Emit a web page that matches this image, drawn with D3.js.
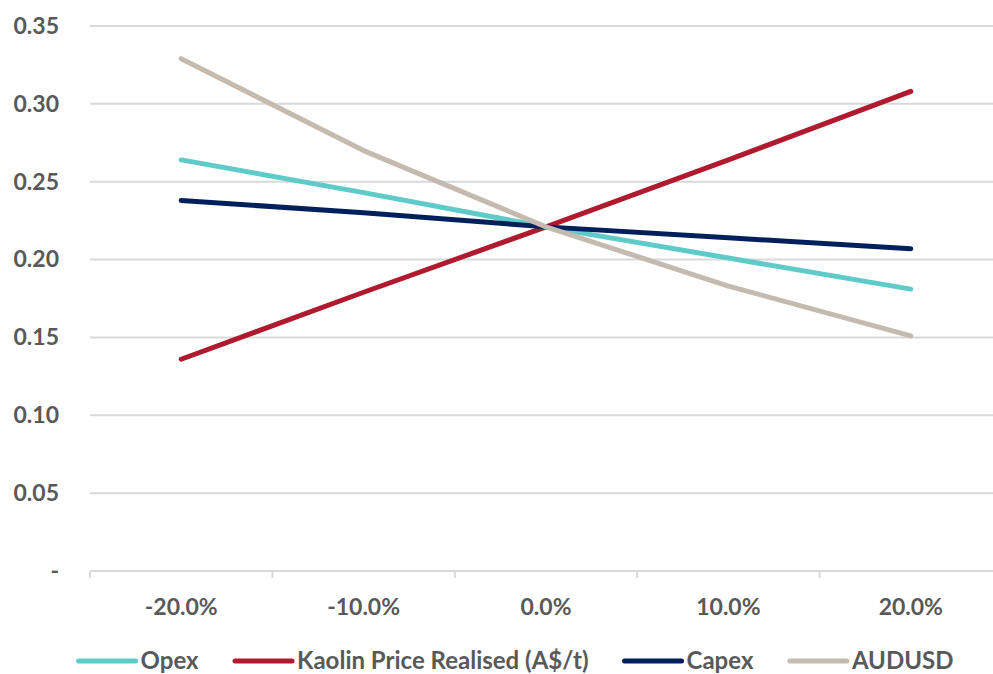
<!DOCTYPE html>
<html>
<head>
<meta charset="utf-8">
<script src="https://cdn.jsdelivr.net/npm/d3@7"></script>
<style>
  html, body { margin: 0; padding: 0; background: #ffffff; }
  svg { display: block; }
  text { font-family: Lato, "Open Sans", sans-serif; font-weight: 700; fill: #595959; }
</style>
</head>
<body>
<svg id="chart" width="993" height="674"></svg>
<script>
// Sensitivity categories (change in input)
const categories = ["-20.0%", "-10.0%", "0.0%", "10.0%", "20.0%"];

// Series values per category
const opex   = [0.264, 0.243, 0.221, 0.201, 0.181];
const kaolin = [0.136, 0.179, 0.221, 0.264, 0.308];
const capex  = [0.238, 0.230, 0.221, 0.214, 0.207];
const audusd = [0.329, 0.270, 0.221, 0.183, 0.151];

const seriesNames  = ["Opex", "Kaolin Price Realised (A$/t)", "Capex", "AUDUSD"];
const seriesColors = ["#5ECBC8", "#AF1A2E", "#00205B", "#C5BAAF"];
const yTicks = [0, 0.05, 0.10, 0.15, 0.20, 0.25, 0.30, 0.35];

const seriesValues = [opex, kaolin, capex, audusd];
const series = seriesNames.map((name, i) => ({ name, color: seriesColors[i], values: seriesValues[i] }));

const svg = d3.select("#chart");
const margin = { left: 90, right: -9, top: 26, bottom: 103 };
const W = 993, H = 674;
const fontSize = "23px";
const legendFontSize = "24px";

const x = d3.scaleBand().domain(categories).range([margin.left, W - margin.right]).padding(0);
const y = d3.scaleLinear().domain([0, 0.35]).range([H - margin.bottom, margin.top]);

// Horizontal gridlines
svg.append("g")
  .selectAll("line")
  .data(yTicks.filter(d => d > 0))
  .join("line")
  .attr("x1", margin.left).attr("x2", W - margin.right)
  .attr("y1", d => y(d)).attr("y2", d => y(d))
  .attr("stroke", "#D9D9D9").attr("stroke-width", 2);

// Y axis labels
const yAxis = svg.append("g")
  .attr("transform", `translate(${margin.left},0)`)
  .call(d3.axisLeft(y).tickValues(yTicks).tickSize(0).tickPadding(31)
    .tickFormat(d => d === 0 ? "-" : d3.format(".2f")(d)));
yAxis.select(".domain").remove();
yAxis.selectAll("text").style("font-size", fontSize).style("font-family", null).attr("fill", "#595959");

// X axis with ticks at category boundaries
const xAxisG = svg.append("g").attr("transform", `translate(0,${y(0)})`);
xAxisG.append("line")
  .attr("x1", margin.left).attr("x2", W - margin.right)
  .attr("y1", 0).attr("y2", 0)
  .attr("stroke", "#D9D9D9").attr("stroke-width", 2);
const boundaries = categories.map(c => x(c)).concat([x(categories[categories.length - 1]) + x.bandwidth()]);
xAxisG.selectAll("line.tick")
  .data(boundaries)
  .join("line")
  .attr("class", "tick")
  .attr("x1", d => d).attr("x2", d => d)
  .attr("y1", 0).attr("y2", 7)
  .attr("stroke", "#D9D9D9").attr("stroke-width", 2);
xAxisG.selectAll("text")
  .data(categories)
  .join("text")
  .attr("x", d => x(d) + x.bandwidth() / 2)
  .attr("y", 36)
  .attr("dy", "0.35em")
  .attr("text-anchor", "middle")
  .style("font-size", fontSize)
  .text(d => d);

// Series lines
const line = d3.line()
  .x((d, i) => x(categories[i]) + x.bandwidth() / 2)
  .y(d => y(d));

svg.append("g")
  .selectAll("path")
  .data(series)
  .join("path")
  .attr("d", d => line(d.values))
  .attr("fill", "none")
  .attr("stroke", d => d.color)
  .attr("stroke-width", 5)
  .attr("stroke-linecap", "round")
  .attr("stroke-linejoin", "round");

// Legend, laid out from measured label widths and centred
const legend = svg.append("g");
const sampleLen = 57, sampleGap = 3, itemGap = 36, legendY = 661;
const items = legend.selectAll("g").data(series).join("g");
items.append("line")
  .attr("x1", 0).attr("x2", sampleLen)
  .attr("y1", 0).attr("y2", 0)
  .attr("stroke", d => d.color).attr("stroke-width", 5).attr("stroke-linecap", "round");
items.append("text")
  .attr("x", sampleLen + sampleGap + 2)
  .attr("y", 0)
  .attr("dy", "0.35em")
  .style("font-size", legendFontSize)
  .text(d => d.name);
let cursor = 0;
const widths = [];
items.each(function () { widths.push(this.getBBox().width); });
items.attr("transform", (d, i) => {
  const t = `translate(${cursor},${legendY})`;
  cursor += widths[i] + itemGap;
  return t;
});
const totalW = cursor - itemGap;
legend.attr("transform", `translate(${516 - totalW / 2},0)`);
</script>
</body>
</html>
